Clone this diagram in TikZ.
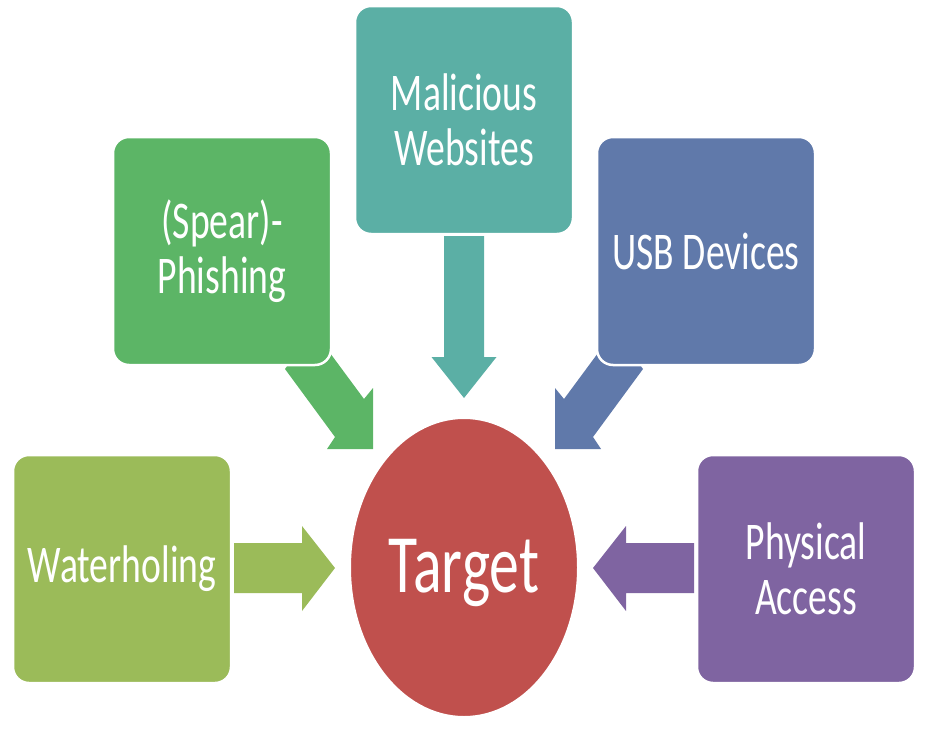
\documentclass[tikz,border=0pt]{standalone}
\usepackage{fontspec}
\setmainfont{Carlito}
\usepackage{graphicx}
\usetikzlibrary{shapes.geometric}
\definecolor{cWater}{HTML}{9BBB59}
\definecolor{cPhish}{HTML}{5CB566}
\definecolor{cWeb}{HTML}{5BAFA5}
\definecolor{cUsb}{HTML}{6079AA}
\definecolor{cPhys}{HTML}{7F64A1}
\definecolor{cTarget}{HTML}{C0504D}
\newcommand{\sq}[1]{\scalebox{0.71}[1]{#1}}
\begin{document}
\begin{tikzpicture}[x=1pt,y=-1pt,
  box/.style={draw=white, line width=2.5pt, rounded corners=16pt,
    minimum width=218pt, minimum height=228pt, inner sep=0pt,
    text=white, align=center, font=\fontsize{53}{55}\selectfont}]
\useasboundingbox (0,0) rectangle (934,736);

% block arrows (drawn first, boxes overlap them)
\fill[cWater] (234,543) -- (302,543) -- (302,526) -- (335,568) -- (302,611) -- (302,593) -- (234,593) -- cycle;
\fill[cPhys] (694,543) -- (626,543) -- (626,526) -- (593,568) -- (626,611) -- (626,593) -- (694,593) -- cycle;
\fill[cWeb] (444,236) -- (484,236) -- (484,357) -- (496.5,357) -- (464,398) -- (431.5,357) -- (444,357) -- cycle;
\fill[cPhish] (285,369) -- (313,330) -- (364,399) -- (373,388) -- (373,449) -- (327,449) -- (335,437) -- cycle;
\fill[cUsb] (643,369) -- (615,330) -- (564,399) -- (555,388) -- (555,449) -- (601,449) -- (593,437) -- cycle;

% boxes
\node[box, fill=cWater] (water) at (122,569) {\sq{Waterholing}};
\node[box, fill=cPhish] (phish) at (222,251) {\sq{(Spear)-}\\\sq{Phishing}};
\node[box, fill=cWeb] (web) at (464,120) {\sq{Malicious}\\\sq{Websites}};
\node[box, fill=cUsb] (usb) at (706,251) {\sq{USB Devices}};
\node[box, fill=cPhys] (phys) at (806,569) {\sq{Physical}\\\sq{Access}};

% target
\node[ellipse, draw=white, line width=2pt, fill=cTarget, minimum width=228pt, minimum height=299pt,
  inner sep=0pt, text height=50pt, text depth=0pt, text=white, font=\fontsize{83}{90}\selectfont] (target) at (464,567.5) {\scalebox{0.72}[1]{Target}};
\end{tikzpicture}
\end{document}
